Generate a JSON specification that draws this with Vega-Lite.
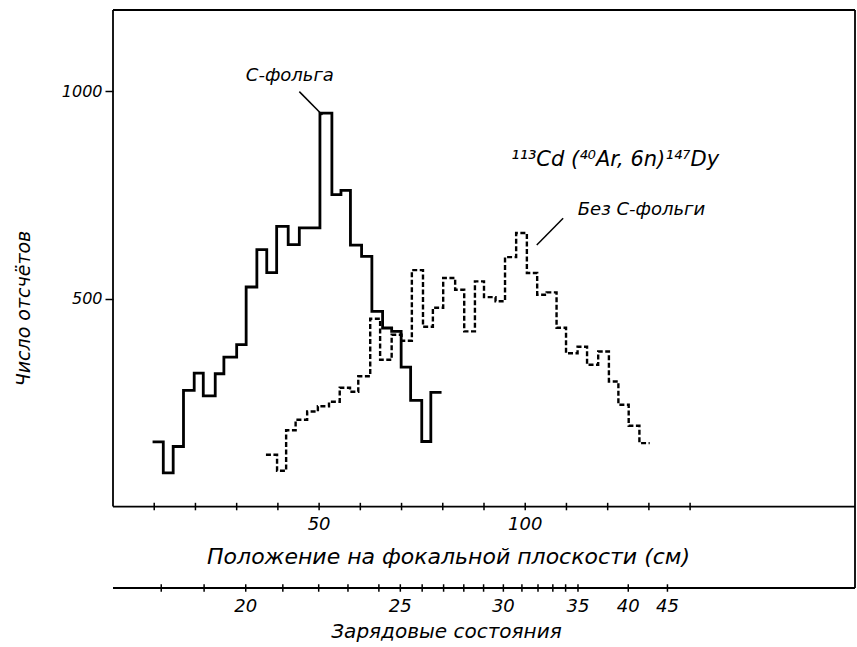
{
  "$schema": "https://vega.github.io/schema/vega-lite/v6.json",
  "width": 742,
  "height": 578,
  "autosize": "none",
  "padding": {"left": 113, "top": 10, "right": 2, "bottom": 59},
  "background": "white",
  "config": {"view": {"stroke": null}, "font": "DejaVu Sans"},
  "datasets": {
    "solid": [
      {"x": 9.6, "n": 155.8}, {"x": 12.2, "n": 81.2}, {"x": 14.6, "n": 144.5}, {"x": 17.1, "n": 279.4},
      {"x": 19.7, "n": 321.3}, {"x": 21.9, "n": 266.6}, {"x": 24.8, "n": 319.6}, {"x": 26.9, "n": 359.8},
      {"x": 30.0, "n": 389.5}, {"x": 32.3, "n": 528.4}, {"x": 34.9, "n": 618.3}, {"x": 37.3, "n": 562.9},
      {"x": 39.7, "n": 674.4}, {"x": 42.5, "n": 630.3}, {"x": 45.2, "n": 670.5}, {"x": 50.2, "n": 947},
      {"x": 53.1, "n": 750.7}, {"x": 55.3, "n": 761.1}, {"x": 57.6, "n": 629.1}, {"x": 60.3, "n": 602.1},
      {"x": 62.8, "n": 469.7}, {"x": 65.4, "n": 429.7}, {"x": 67.6, "n": 421.5}, {"x": 69.9, "n": 335.7},
      {"x": 72.2, "n": 255.3}, {"x": 74.9, "n": 156.6}, {"x": 77.1, "n": 274.6}, {"x": 79.7, "n": 274.6}
    ],
    "dashed": [
      {"x": 37.1, "n": 124.5}, {"x": 39.8, "n": 86}, {"x": 42.0, "n": 183.5}, {"x": 44.3, "n": 208.8},
      {"x": 47.1, "n": 228.8}, {"x": 49.7, "n": 241.3}, {"x": 52.4, "n": 252.2}, {"x": 55.0, "n": 285.9},
      {"x": 57.5, "n": 276.3}, {"x": 59.5, "n": 313.6}, {"x": 62.4, "n": 452.1}, {"x": 64.8, "n": 353.3},
      {"x": 67.6, "n": 413.5}, {"x": 70.0, "n": 399.1}, {"x": 72.5, "n": 568.9}, {"x": 75.2, "n": 432.8},
      {"x": 77.6, "n": 478.6}, {"x": 80.1, "n": 550.1}, {"x": 83.0, "n": 521.9}, {"x": 85.2, "n": 421.5},
      {"x": 87.8, "n": 541.9}, {"x": 90.0, "n": 503.9}, {"x": 92.8, "n": 494.2}, {"x": 95.1, "n": 600.2},
      {"x": 97.8, "n": 658.5}, {"x": 100.4, "n": 562.1}, {"x": 102.9, "n": 509.9}, {"x": 105.2, "n": 515.4},
      {"x": 107.6, "n": 430.4}, {"x": 109.9, "n": 369}, {"x": 112.7, "n": 384.6}, {"x": 115.0, "n": 341.3},
      {"x": 117.7, "n": 373.3}, {"x": 120.3, "n": 301.1}, {"x": 122.6, "n": 244.9}, {"x": 125.1, "n": 194.4},
      {"x": 127.7, "n": 152.7}, {"x": 130.2, "n": 152.7}
    ],
    "fticks": [
      {"cm": 10}, {"cm": 20}, {"cm": 30}, {"cm": 40}, {"cm": 50, "label": "50"}, {"cm": 60}, {"cm": 70},
      {"cm": 80}, {"cm": 90}, {"cm": 100, "label": "100"}, {"cm": 110}, {"cm": 120}, {"cm": 130}, {"cm": 140}
    ],
    "qticks": [
      {"q": 18, "cm": 11.7}, {"q": 19, "cm": 22.1}, {"q": 20, "cm": 32.2, "label": "20"}, {"q": 21, "cm": 41.2},
      {"q": 22, "cm": 49.9}, {"q": 23, "cm": 57.0}, {"q": 24, "cm": 64.5}, {"q": 25, "cm": 69.7, "label": "25"},
      {"q": 26, "cm": 75.0}, {"q": 27, "cm": 80.2}, {"q": 28, "cm": 85.1}, {"q": 29, "cm": 89.9},
      {"q": 30, "cm": 94.7, "label": "30"}, {"q": 31, "cm": 99.2}, {"q": 32, "cm": 103.1}, {"q": 33, "cm": 106.7},
      {"q": 34, "cm": 109.8}, {"q": 35, "cm": 112.8, "label": "35"}, {"q": 40, "cm": 125.0, "label": "40"},
      {"q": 45, "cm": 134.5, "label": "45"}
    ]
  },
  "layer": [
    {
      "data": {"name": "solid"},
      "mark": {"type": "line", "interpolate": "step-after", "color": "black", "strokeWidth": 2.8},
      "encoding": {
        "x": {"field": "x", "type": "quantitative", "scale": {"domain": [0, 180], "nice": false, "zero": false}, "axis": null},
        "y": {
          "field": "n", "type": "quantitative",
          "scale": {"domain": [-196, 1195], "nice": false, "zero": false},
          "axis": {
            "values": [500, 1000], "format": "d", "domain": false, "grid": false, "tickSize": 8, "tickWidth": 1.5, "tickColor": "black",
            "labelFont": "DejaVu Sans", "labelFontStyle": "italic", "labelFontSize": 16, "labelColor": "black", "labelPadding": 3,
            "title": "Число отсчётов", "titleFont": "DejaVu Sans", "titleFontStyle": "italic", "titleFontWeight": "normal",
            "titleFontSize": 19, "titleColor": "black", "titleX": -90, "titleY": 298, "titleAngle": -90, "titleBaseline": "middle", "titleAlign": "center"
          }
        }
      }
    },
    {
      "data": {"name": "dashed"},
      "mark": {"type": "line", "interpolate": "step-after", "color": "black", "strokeWidth": 2.4, "strokeDash": [5, 2.5]},
      "encoding": {
        "x": {"field": "x", "type": "quantitative"},
        "y": {"field": "n", "type": "quantitative"}
      }
    },
    {
      "data": {"values": [{}]},
      "mark": {"type": "rule", "color": "black", "strokeWidth": 1.8},
      "encoding": {"y": {"datum": 1195}}
    },
    {
      "data": {"values": [{}]},
      "mark": {"type": "rule", "color": "black", "strokeWidth": 1.8},
      "encoding": {"y": {"datum": 0}}
    },
    {
      "data": {"values": [{}]},
      "mark": {"type": "rule", "color": "black", "strokeWidth": 1.8},
      "encoding": {"y": {"datum": -196}}
    },
    {
      "data": {"values": [{}]},
      "mark": {"type": "rule", "color": "black", "strokeWidth": 1.8},
      "encoding": {"x": {"datum": 180}, "y": {"datum": -196}, "y2": {"datum": 1195}}
    },
    {
      "data": {"values": [{}]},
      "mark": {"type": "rule", "color": "black", "strokeWidth": 1.8},
      "encoding": {"x": {"datum": 0}, "y": {"datum": 0}, "y2": {"datum": 1195}}
    },
    {
      "data": {"name": "fticks"},
      "mark": {"type": "rule", "color": "black", "strokeWidth": 1.5},
      "encoding": {"x": {"field": "cm", "type": "quantitative"}, "y": {"datum": -9}, "y2": {"datum": 9}}
    },
    {
      "data": {"name": "fticks"},
      "transform": [{"filter": "isValid(datum.label)"}],
      "mark": {"type": "text", "font": "DejaVu Sans", "fontStyle": "italic", "fontSize": 18, "color": "black", "baseline": "middle", "align": "center"},
      "encoding": {"x": {"field": "cm", "type": "quantitative"}, "y": {"datum": -44}, "text": {"field": "label"}}
    },
    {
      "data": {"name": "qticks"},
      "mark": {"type": "rule", "color": "black", "strokeWidth": 1.5},
      "encoding": {"x": {"field": "cm", "type": "quantitative"}, "y": {"datum": -205}, "y2": {"datum": -187}}
    },
    {
      "data": {"name": "qticks"},
      "transform": [{"filter": "isValid(datum.label)"}],
      "mark": {"type": "text", "font": "DejaVu Sans", "fontStyle": "italic", "fontSize": 18, "color": "black", "baseline": "middle", "align": "center"},
      "encoding": {"x": {"field": "cm", "type": "quantitative"}, "y": {"datum": -241}, "text": {"field": "label"}}
    },
    {
      "data": {"values": [{}]},
      "mark": {"type": "text", "font": "DejaVu Sans", "fontStyle": "italic", "fontSize": 22, "color": "black", "baseline": "middle", "align": "center", "text": "Положение на фокальной плоскости (см)"},
      "encoding": {"x": {"datum": 81.4}, "y": {"datum": -120.6}}
    },
    {
      "data": {"values": [{}]},
      "mark": {"type": "text", "font": "DejaVu Sans", "fontStyle": "italic", "fontSize": 20, "color": "black", "baseline": "middle", "align": "center", "text": "Зарядовые состояния"},
      "encoding": {"x": {"datum": 80.9}, "y": {"datum": -301}}
    },
    {
      "data": {"values": [{}]},
      "mark": {"type": "text", "font": "DejaVu Sans", "fontStyle": "italic", "fontSize": 18, "color": "black", "baseline": "middle", "align": "center", "text": "C-фольга"},
      "encoding": {"x": {"datum": 42.9}, "y": {"datum": 1036}}
    },
    {
      "data": {"values": [{}]},
      "mark": {"type": "rule", "color": "black", "strokeWidth": 1.5},
      "encoding": {"x": {"datum": 45.2}, "y": {"datum": 998.6}, "x2": {"datum": 50.8}, "y2": {"datum": 942.4}}
    },
    {
      "data": {"values": [{}]},
      "mark": {"type": "text", "font": "DejaVu Sans", "fontStyle": "italic", "fontSize": 18, "color": "black", "baseline": "middle", "align": "center", "text": "Без  C-фольги"},
      "encoding": {"x": {"datum": 128.2}, "y": {"datum": 713.8}}
    },
    {
      "data": {"values": [{}]},
      "mark": {"type": "rule", "color": "black", "strokeWidth": 1.5},
      "encoding": {"x": {"datum": 109.2}, "y": {"datum": 693.9}, "x2": {"datum": 102.8}, "y2": {"datum": 629.6}}
    },
    {
      "data": {"values": [{}]},
      "mark": {"type": "text", "font": "DejaVu Sans", "fontStyle": "italic", "fontSize": 21, "color": "black", "baseline": "middle", "align": "center", "text": "¹¹³Cd (⁴⁰Ar, 6n)¹⁴⁷Dy"},
      "encoding": {"x": {"datum": 121.8}, "y": {"datum": 834}}
    }
  ]
}
